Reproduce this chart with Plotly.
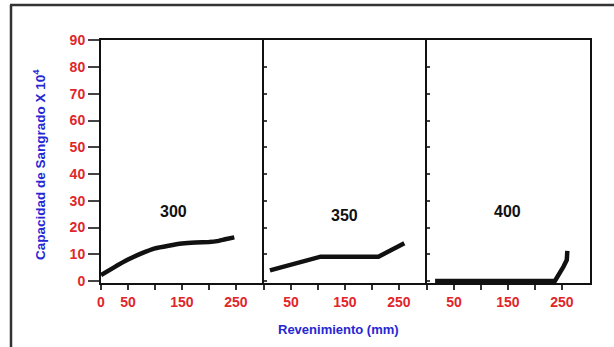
import plotly.graph_objects as go

W, H = 614, 347

# Data
x300 = [0, 25, 50, 75, 100, 125, 150, 175, 200, 215, 230, 247]
y300 = [2.2, 5.2, 8.0, 10.3, 12.2, 13.2, 14.0, 14.4, 14.6, 14.9, 15.6, 16.3]
x350 = [11, 105, 212, 260]
y350 = [4.0, 9.1, 9.1, 14.1]
x400 = [15, 237, 253, 259, 260]
y400 = [0.0, 0.0, 5.4, 7.9, 11.3]
series_x = [x300, x350, x400]
series_y = [y300, y350, y400]
panel_labels = ["300", "350", "400"]
label_pos = [(135, 26), (149, 24.6), (150, 26)]

x_major_first = [0, 50, 150, 250]
x_major_other = [50, 150, 250]
x_minor_first = [100, 200]
x_minor_other = [0, 100, 200]
y_tickvals = [0, 10, 20, 30, 40, 50, 60, 70, 80, 90]

RED = "#e0262b"
BLUE = "#2626d4"
FONT = "Arial, Liberation Sans, sans-serif"

panels_px = [(101, 264), (264, 427), (427, 590)]
top_px, bot_px = 39.5, 283

fig = go.Figure()
for i in range(3):
    n = "" if i == 0 else str(i + 1)
    fig.add_trace(go.Scatter(
        x=series_x[i], y=series_y[i], mode="lines",
        line=dict(color="#111111", width=4.5,
                  shape="spline" if i == 0 else "linear", smoothing=0.3),
        xaxis="x" + n, yaxis="y" + n, showlegend=False, hoverinfo="skip"))
    x0, x1 = panels_px[i]
    major = x_major_first if i == 0 else x_major_other
    minor = x_minor_first if i == 0 else x_minor_other
    fig.layout["xaxis" + n] = dict(
        domain=[x0 / W, x1 / W], range=[0, 302], anchor="y" + n,
        automargin=False,
        showgrid=False, zeroline=False, showline=True, mirror=True,
        linecolor="#111111", linewidth=2,
        ticks="outside", ticklen=5, tickwidth=1.5, tickcolor="#333333",
        tickmode="array", tickvals=major, ticktext=[str(v) for v in major],
        minor=dict(tickmode="array", tickvals=minor, ticks="outside",
                   ticklen=5, tickwidth=1.5, tickcolor="#333333", showgrid=False),
        tickfont=dict(family=FONT, size=14, color=RED, weight="bold"),
    )
    fig.layout["yaxis" + n] = dict(
        domain=[1 - bot_px / H, 1 - top_px / H], range=[-0.75, 90.3],
        anchor="x" + n, automargin=False,
        showgrid=False, zeroline=False, showline=True, mirror=(i == 2),
        linecolor="#111111", linewidth=2,
        ticks="outside" if i == 0 else "inside",
        ticklen=11 if i == 0 else 3, tickwidth=1.5, tickcolor="#444444",
        tickvals=y_tickvals, showticklabels=(i == 0),
        tickfont=dict(family=FONT, size=14, color=RED, weight="bold"),
    )
    lx, ly = label_pos[i]
    fig.add_annotation(x=lx, y=ly, xref="x" + n, yref="y" + n,
                       xanchor="center", yanchor="middle",
                       text=panel_labels[i], showarrow=False,
                       font=dict(family=FONT, size=16, color="#111111", weight="bold"))

fig.add_annotation(x=39 / W, y=1 - 165 / H, xref="paper", yref="paper",
                   xanchor="center", yanchor="middle",
                   text="Capacidad de Sangrado X 10<sup>4</sup>", textangle=-90,
                   showarrow=False,
                   font=dict(family=FONT, size=13.5, color=BLUE, weight="bold"))
fig.add_annotation(x=338 / W, y=1 - 329 / H, xref="paper", yref="paper",
                   xanchor="center", yanchor="middle",
                   text="Revenimiento (mm)", showarrow=False,
                   font=dict(family=FONT, size=13, color=BLUE, weight="bold"))

# outer frame
fig.add_shape(type="line", xref="paper", yref="paper",
              x0=10 / W, x1=1, y0=1 - 5 / H, y1=1 - 5 / H,
              line=dict(color="#333333", width=2.5))
fig.add_shape(type="line", xref="paper", yref="paper",
              x0=11 / W, x1=11 / W, y0=1 - 5 / H, y1=0,
              line=dict(color="#333333", width=2.5))

fig.update_layout(width=W, height=H, margin=dict(l=0, r=0, t=0, b=0, pad=0),
                  autosize=False,
                  paper_bgcolor="white", plot_bgcolor="white")

post = """
document.documentElement.style.margin='0';
document.documentElement.style.overflow='hidden';
document.body.style.margin='0';
document.body.style.overflow='hidden';
var gd = document.getElementById('{plot_id}');
gd.style.position='fixed'; gd.style.left='0px'; gd.style.top='0px';
"""
fig.write_html("out.html", config={"displayModeBar": False, "responsive": False},
               post_script=post)
